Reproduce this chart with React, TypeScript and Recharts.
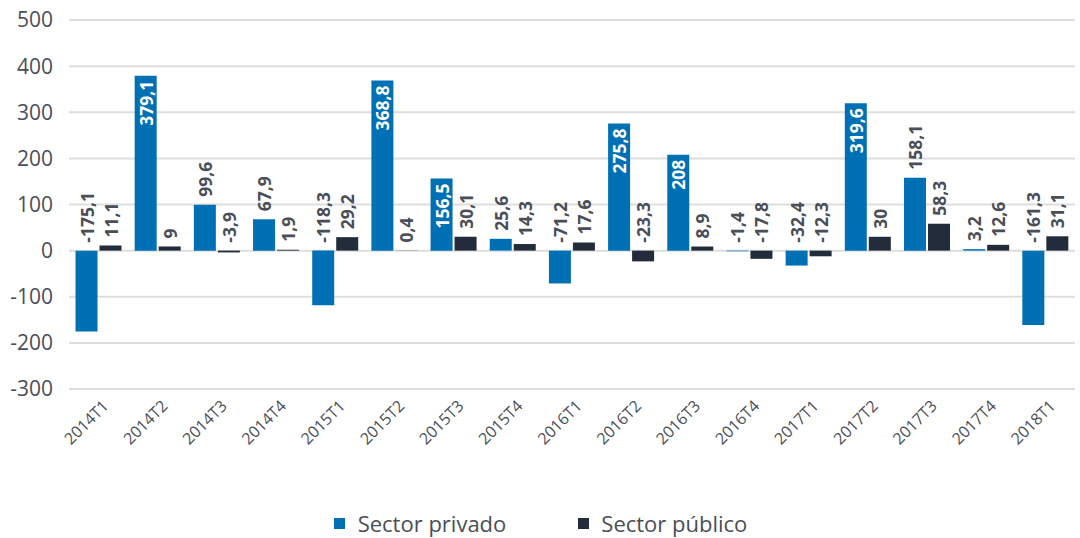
import React from 'react';
import {
    BarChart,
    Bar,
    XAxis,
    YAxis,
    CartesianGrid,
    Legend,
    LabelList,
} from 'recharts';

const categories = [
    '2014T1', '2014T2', '2014T3', '2014T4',
    '2015T1', '2015T2', '2015T3', '2015T4',
    '2016T1', '2016T2', '2016T3', '2016T4',
    '2017T1', '2017T2', '2017T3', '2017T4',
    '2018T1',
];

const privado = [
    -175.1, 379.1, 99.6, 67.9,
    -118.3, 368.8, 156.5, 25.6,
    -71.2, 275.8, 208, -1.4,
    -32.4, 319.6, 158.1, 3.2,
    -161.3,
];

const publico = [
    11.1, 9, -3.9, 1.9,
    29.2, 0.4, 30.1, 14.3,
    17.6, -23.3, 8.9, -17.8,
    -12.3, 30, 58.3, 12.6,
    31.1,
];

const yTicks = [-300, -200, -100, 0, 100, 200, 300, 400, 500];

// bars whose value label sits inside the bar, in white
const insideLabels = ['2014T2', '2015T2', '2015T3', '2016T2', '2016T3', '2017T2'];

const BLUE = '#0070b4';
const DARK = '#222c3a';
const GREY = '#4a4e57';
const FONT = '"Open Sans", sans-serif';

const data = categories.map((name, i) => ({
    name,
    privado: privado[i],
    publico: publico[i],
}));

const fmt = (v: number) => String(v).replace('.', ',');

function makeLabel(canInside: boolean) {
    return (props: any) => {
        const { x, y, width, height, value, index } = props;
        const top = Math.min(y, y + height);
        const cx = x + width / 2;
        const inside = canInside && insideLabels.includes(categories[index]);
        const ay = inside ? top + 5 : top - 8;
        return (
            <text
                x={cx}
                y={ay}
                transform={`rotate(-90 ${cx} ${ay})`}
                textAnchor={inside ? 'end' : 'start'}
                dominantBaseline="central"
                fontFamily={FONT}
                fontWeight={700}
                fontSize={17.5}
                fill={inside ? '#ffffff' : GREY}
            >
                {fmt(value)}
            </text>
        );
    };
}

const XTick = (props: any) => {
    const { x, y, payload } = props;
    const tx = x + 11;
    const ty = y + 16;
    return (
        <text
            x={tx}
            y={ty}
            transform={`rotate(-45 ${tx} ${ty})`}
            textAnchor="end"
            fontFamily={FONT}
            fontSize={16}
            fill={GREY}
        >
            {payload.value}
        </text>
    );
};

const LegendContent = () => (
    <div
        style={{
            display: 'flex',
            justifyContent: 'center',
            alignItems: 'center',
            fontFamily: FONT,
            fontSize: 22,
            color: GREY,
            height: 30,
            paddingTop: 4,
            paddingLeft: 6,
        }}
    >
        <span style={{ display: 'flex', alignItems: 'center', marginRight: 72 }}>
            <span style={{ width: 11, height: 11, background: BLUE, marginRight: 13 }} />
            Sector privado
        </span>
        <span style={{ display: 'flex', alignItems: 'center' }}>
            <span style={{ width: 11, height: 11, background: DARK, marginRight: 12 }} />
            Sector público
        </span>
    </div>
);

export default function App() {
    return (
        <div style={{ position: 'absolute', left: 0, top: 0, background: '#fff' }}>
            <BarChart
                width={1080}
                height={538}
                data={data}
                margin={{ top: 20, right: 5, left: 0, bottom: 4 }}
                barCategoryGap="11%"
                barGap={2}
            >
                <CartesianGrid vertical={false} stroke="#dedede" strokeWidth={2} />
                <XAxis
                    dataKey="name"
                    axisLine={false}
                    tickLine={false}
                    tickSize={0}
                    height={115}
                    interval={0}
                    tick={<XTick />}
                />
                <YAxis
                    domain={[-300, 500]}
                    ticks={yTicks}
                    axisLine={false}
                    tickLine={false}
                    tickSize={0}
                    tickMargin={16}
                    width={69}
                    tick={{ fontFamily: FONT, fontSize: 21, fill: GREY }}
                />
                <Legend
                    verticalAlign="bottom"
                    content={<LegendContent />}
                    wrapperStyle={{ height: 30 }}
                />
                <Bar dataKey="privado" name="Sector privado" fill={BLUE} isAnimationActive={false}>
                    <LabelList dataKey="privado" content={makeLabel(true)} />
                </Bar>
                <Bar dataKey="publico" name="Sector público" fill={DARK} isAnimationActive={false}>
                    <LabelList dataKey="publico" content={makeLabel(false)} />
                </Bar>
            </BarChart>
        </div>
    );
}
